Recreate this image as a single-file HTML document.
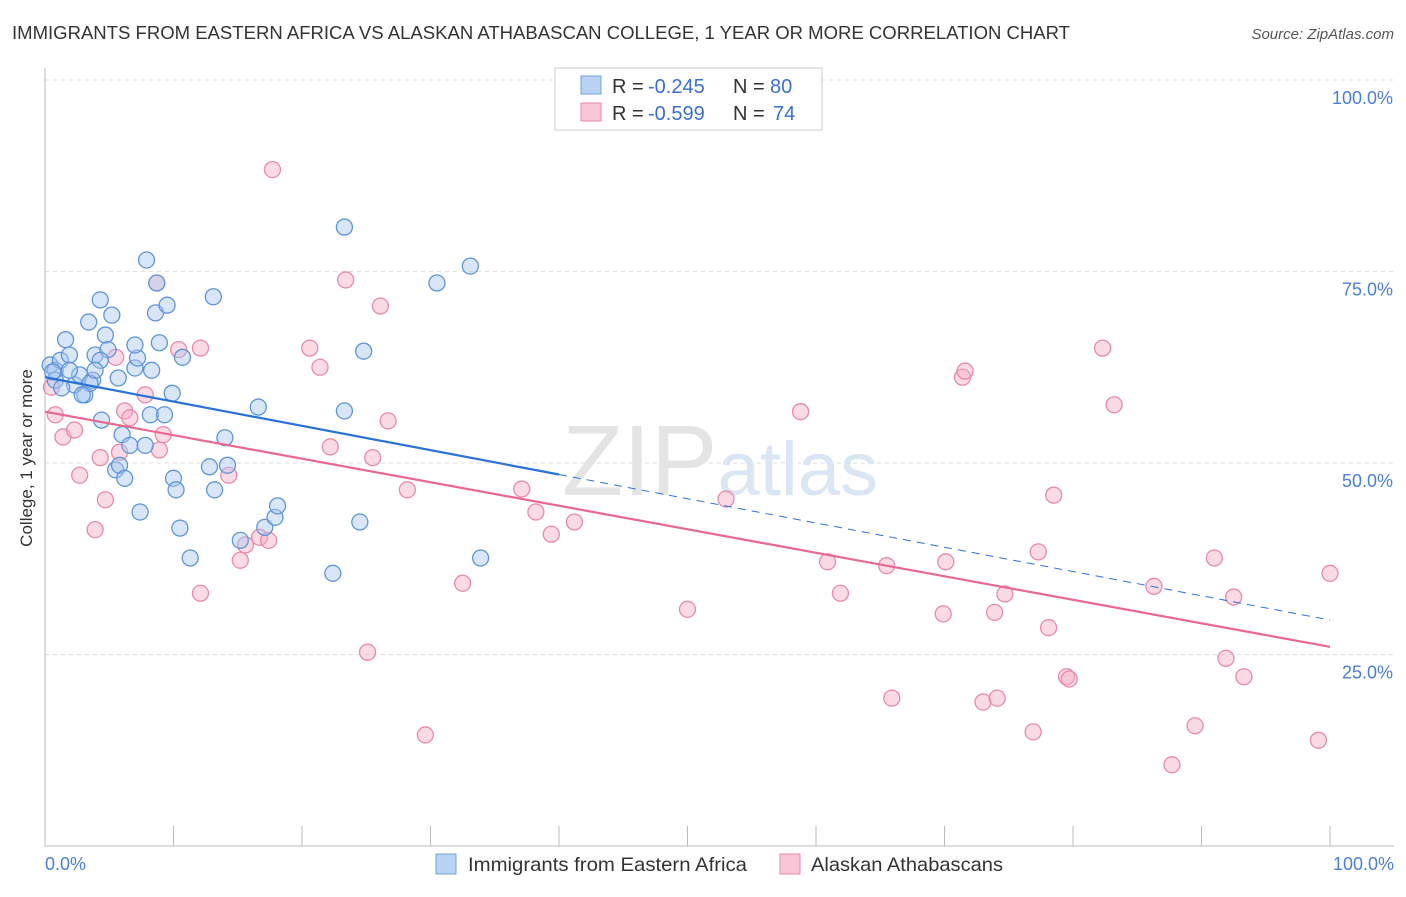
<!DOCTYPE html>
<html><head><meta charset="utf-8"><style>
body{margin:0;background:#fff;font-family:"Liberation Sans",sans-serif;}
svg text{font-family:"Liberation Sans",sans-serif;}
</style></head><body>
<svg id="chart" width="1406" height="892">
<text x="12" y="39" font-size="18" fill="#333" textLength="1058" lengthAdjust="spacingAndGlyphs">IMMIGRANTS FROM EASTERN AFRICA VS ALASKAN ATHABASCAN COLLEGE, 1 YEAR OR MORE CORRELATION CHART</text>
<text x="1394" y="39" font-size="15" fill="#555" font-style="italic" text-anchor="end">Source: ZipAtlas.com</text>
<text x="32" y="458" font-size="17" fill="#333" text-anchor="middle" transform="rotate(-90 32 458)">College, 1 year or more</text>
<g id="grid"></g>
<text x="720" y="495" font-size="100" fill="#e4e4e4" text-anchor="middle" font-family="Liberation Serif">ZIP<tspan fill="#dbe6f5" font-family="Liberation Sans" font-size="76">atlas</tspan></text>
<g id="marks"></g>
<g>
<rect x="555" y="68" width="267" height="62" fill="#fff" stroke="#ccc"/>
<rect x="581" y="76" width="20" height="18" fill="#b9d3f4" stroke="#6fa0dc"/>
<rect x="581" y="103" width="20" height="18" fill="#f8c6d6" stroke="#e88aa8"/>
<text x="612" y="93" font-size="20" fill="#333">R =</text>
<text x="648" y="93" font-size="20" fill="#3a70d0">-0.245</text>
<text x="733" y="93" font-size="20" fill="#333">N =</text>
<text x="770" y="93" font-size="20" fill="#3a70d0">80</text>
<text x="612" y="120" font-size="20" fill="#333">R =</text>
<text x="648" y="120" font-size="20" fill="#3a70d0">-0.599</text>
<text x="733" y="120" font-size="20" fill="#333">N =</text>
<text x="773" y="120" font-size="20" fill="#3a70d0">74</text>
</g>
<g>
<rect x="436" y="854" width="20" height="20" fill="#b9d3f4" stroke="#6fa0dc"/>
<text x="468" y="871" font-size="19.5" fill="#333" textLength="279" lengthAdjust="spacingAndGlyphs">Immigrants from Eastern Africa</text>
<rect x="780" y="854" width="20" height="20" fill="#f8c6d6" stroke="#e88aa8"/>
<text x="811" y="871" font-size="19.5" fill="#333" textLength="192" lengthAdjust="spacingAndGlyphs">Alaskan Athabascans</text>
</g>
</svg>
<script>
const yTicks=[25,50,75,100];
const yTickLabels=["25.0%","50.0%","75.0%","100.0%"];
const xEndLabels=["0.0%","100.0%"];
const blueX=[0.4,0.8,1.2,1.6,1.9,2.3,2.7,3.1,3.4,3.7,3.9,4.3,4.4,4.7,4.9,5.2,5.5,5.7,5.8,6.0,6.2,6.6,7.0,7.2,7.4,7.8,7.9,8.2,8.3,8.6,8.7,8.9,9.3,9.5,9.9,10.0,10.2,10.5,10.7,11.3,12.8,13.1,13.2,14.0,14.2,15.2,16.6,17.1,17.9,18.1,22.4,23.3,23.3,24.5,24.8,30.5,33.1,33.9,0.8,1.3,3.5,1.9,4.3,2.9,7.0,0.6,3.9];
const blueY=[62.8,62.1,63.4,66.1,64.1,60.2,61.5,58.9,68.4,60.8,64.1,71.3,55.6,66.7,64.8,69.3,49.1,61.1,49.7,53.7,48.0,52.3,62.4,63.7,43.6,52.3,76.5,56.3,62.1,69.6,73.5,65.7,56.3,70.6,59.1,48.0,46.5,41.5,63.8,37.6,49.5,71.7,46.5,53.3,49.7,39.9,57.3,41.6,42.9,44.4,35.6,80.8,56.8,42.3,64.6,73.5,75.7,37.6,60.8,59.8,60.4,62.1,63.4,58.9,65.4,61.9,62.1];
const pinkX=[0.5,0.8,1.4,2.3,2.7,3.9,4.3,4.7,5.5,5.8,6.2,6.6,7.8,8.7,8.9,9.2,10.4,12.1,12.1,14.3,15.2,15.6,16.7,17.4,17.7,20.6,21.4,22.2,23.4,25.1,25.5,26.1,26.7,28.2,29.6,32.5,37.1,38.2,39.4,41.2,50.0,53.0,58.8,60.9,61.9,65.5,65.9,69.9,70.1,71.4,71.6,73.0,73.9,74.1,74.7,76.9,77.3,78.1,78.5,79.5,79.7,82.3,83.2,86.3,87.7,89.5,91.0,91.9,92.5,93.3,99.1,100];
const pinkY=[59.9,56.3,53.4,54.3,48.4,41.3,50.7,45.2,63.8,51.4,56.8,55.9,58.9,73.5,51.7,53.7,64.8,33.0,65.0,48.4,37.3,39.3,40.3,39.9,88.3,65.0,62.5,52.1,73.9,25.3,50.7,70.5,55.5,46.5,14.5,34.3,46.6,43.6,40.7,42.3,30.9,45.3,56.7,37.1,33.0,36.6,19.3,30.3,37.1,61.2,62.0,18.8,30.5,19.3,32.9,14.9,38.4,28.5,45.8,22.1,21.8,65.0,57.6,33.9,10.6,15.7,37.6,24.5,32.5,22.1,13.8,35.6];
const blueTrend=[[0,61.2],[40,48.5],[100,29.5]];
const pinkTrend=[[0,56.7],[100,26.0]];
const xTicks=[0,10,20,30,40,50,60,70,80,90,100];

const NS="http://www.w3.org/2000/svg";
const X=v=>45+v*12.85, Y=v=>846-v*7.66;
function mk(tag,attrs,parent){const e=document.createElementNS(NS,tag);for(const k in attrs)e.setAttribute(k,attrs[k]);parent.appendChild(e);return e;}
const grid=document.getElementById('grid'), marks=document.getElementById('marks');
yTicks.forEach((t,i)=>{
 const l=mk('line',{x1:45,x2:1394,y1:Y(t),y2:Y(t),stroke:'#ddd','stroke-dasharray':'4,4'},grid);
 
 
 const tx=mk('text',{x:1393,y:Y(t)+24,'font-size':18,fill:'#4a7fd4','text-anchor':'end'},grid);
 tx.textContent=yTickLabels[i];
 
 
});
const ax=mk('line',{x1:45,x2:1394,y1:846,y2:846,stroke:'#bbb'},grid);


const ay=mk('line',{x1:45,x2:45,y1:68,y2:846,stroke:'#bbb'},grid);


xTicks.forEach(t=>{const l=mk('line',{x1:X(t),x2:X(t),y1:826,y2:846,stroke:'#bbb'},grid);
 
 });
[[0,'start',45],[1,'end',1394]].forEach(([i,a,x])=>{const t=mk('text',{x:x,y:870,'font-size':18,fill:'#4a7fd4','text-anchor':a},grid);t.textContent=xEndLabels[i];
 
 });
function dots(xs,ys,fill,stroke,name){xs.forEach((x,i)=>{const c=mk('circle',{cx:X(x),cy:Y(ys[i]),r:8,fill:fill,'fill-opacity':0.45,stroke:stroke,'stroke-width':1.3},marks);
 
 });}
dots(pinkX,pinkY,'#f4b0c6','#e88aa8','pink-point');
dots(blueX,blueY,'#a8c8f0','#5f95d8','blue-point');
const b1=mk('line',{x1:X(blueTrend[0][0]),y1:Y(blueTrend[0][1]),x2:X(blueTrend[1][0]),y2:Y(blueTrend[1][1]),stroke:'#2a72d8','stroke-width':2.2},marks);


const b2=mk('line',{x1:X(blueTrend[1][0]),y1:Y(blueTrend[1][1]),x2:X(blueTrend[2][0]),y2:Y(blueTrend[2][1]),stroke:'#2a72d8','stroke-width':1,'stroke-dasharray':'8,6'},marks);


const p1=mk('line',{x1:X(pinkTrend[0][0]),y1:Y(pinkTrend[0][1]),x2:X(pinkTrend[1][0]),y2:Y(pinkTrend[1][1]),stroke:'#e8688f','stroke-width':2.2},marks);


</script>
</body></html>
